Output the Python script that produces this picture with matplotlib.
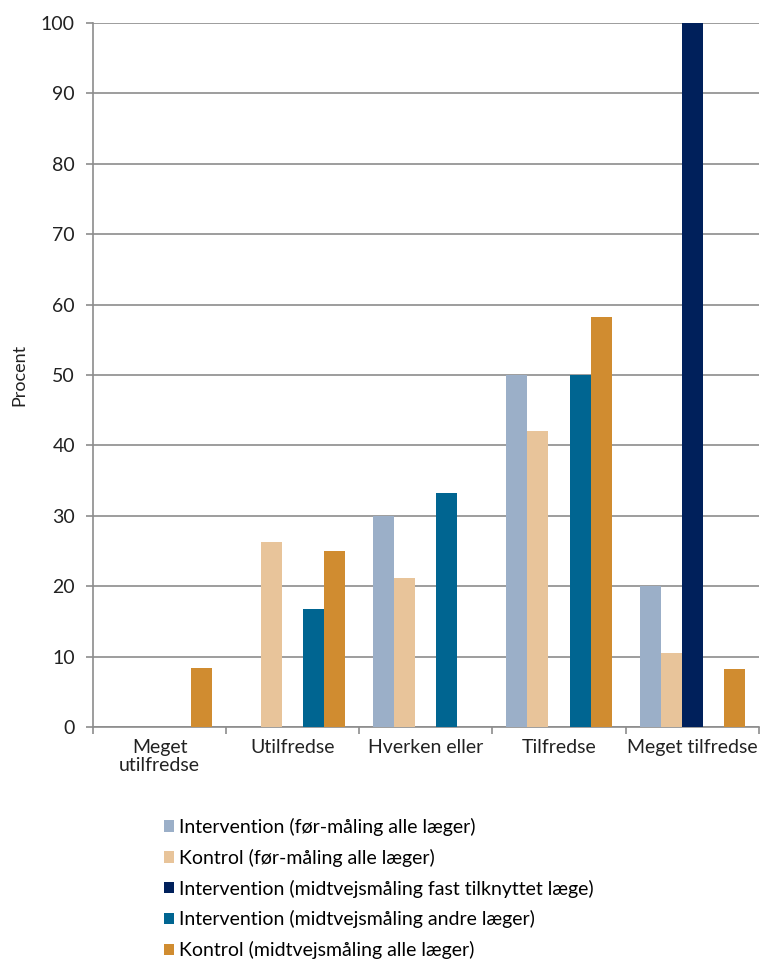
import numpy as np
import matplotlib.pyplot as plt
from matplotlib.ticker import FixedLocator

plt.rcParams['font.family'] = ['Lato', 'DejaVu Sans']

categories = ['Meget\nutilfredse', 'Utilfredse', 'Hverken eller', 'Tilfredse', 'Meget tilfredse']
series_names = ['Intervention (før-måling alle læger)',
                'Kontrol (før-måling alle læger)',
                'Intervention (midtvejsmåling fast tilknyttet læge)',
                'Intervention (midtvejsmåling andre læger)',
                'Kontrol (midtvejsmåling alle læger)']
int_foer = [0, 0, 30, 50, 20]
kontrol_foer = [0, 26.3, 21.1, 42.1, 10.5]
int_fast = [0, 0, 0, 0, 100]
int_andre = [0, 16.7, 33.3, 50, 0]
kontrol_midt = [8.4, 25, 0, 58.3, 8.3]
colors = ['#9bafc8', '#e8c49a', '#00205b', '#006591', '#d08c30']

series = [int_foer, kontrol_foer, int_fast, int_andre, kontrol_midt]

fig = plt.figure(figsize=(7.61, 9.63), dpi=100)
ax = fig.add_axes([0.1222, 0.2451, 0.8748, 0.7310])

x = np.arange(len(categories))
w = 0.158
for i, (vals, name, c) in enumerate(zip(series, series_names, colors)):
    ax.bar(x + (i - 2) * w, vals, width=w, color=c, label=name, zorder=3)

ax.set_xlim(-0.5, len(categories) - 0.5)
ax.set_ylim(0, 100)
ax.set_yticks(range(0, 101, 10))
ax.yaxis.grid(True, color='#8c8c8c', linewidth=1.2, zorder=0)
ax.set_axisbelow(True)

fs = 14
ax.set_xticks(x)
ax.set_xticklabels(categories, fontsize=fs, color='#222222', linespacing=1.05)
ax.xaxis.set_minor_locator(FixedLocator(np.arange(-0.5, len(categories), 1)))
ax.tick_params(axis='x', which='major', length=0, pad=9)
ax.tick_params(axis='x', which='minor', length=5, width=1.2, color='#8c8c8c')
ax.tick_params(axis='y', length=5, width=1.2, color='#8c8c8c', labelsize=fs, labelcolor='#222222', pad=8)

for s in ['top', 'right']:
    ax.spines[s].set_visible(False)
for s in ['left', 'bottom']:
    ax.spines[s].set_color('#8c8c8c')
    ax.spines[s].set_linewidth(1.2)

ax.set_ylabel('Procent', fontsize=13, color='#222222', labelpad=10)

fig.legend(loc='upper left', bbox_to_anchor=(0.205, 0.159), frameon=False,
           fontsize=fs, handlelength=0.55, handleheight=0.55, handletextpad=0.25,
           labelspacing=0.66, borderaxespad=0)

fig.savefig('out.png', dpi=100)
